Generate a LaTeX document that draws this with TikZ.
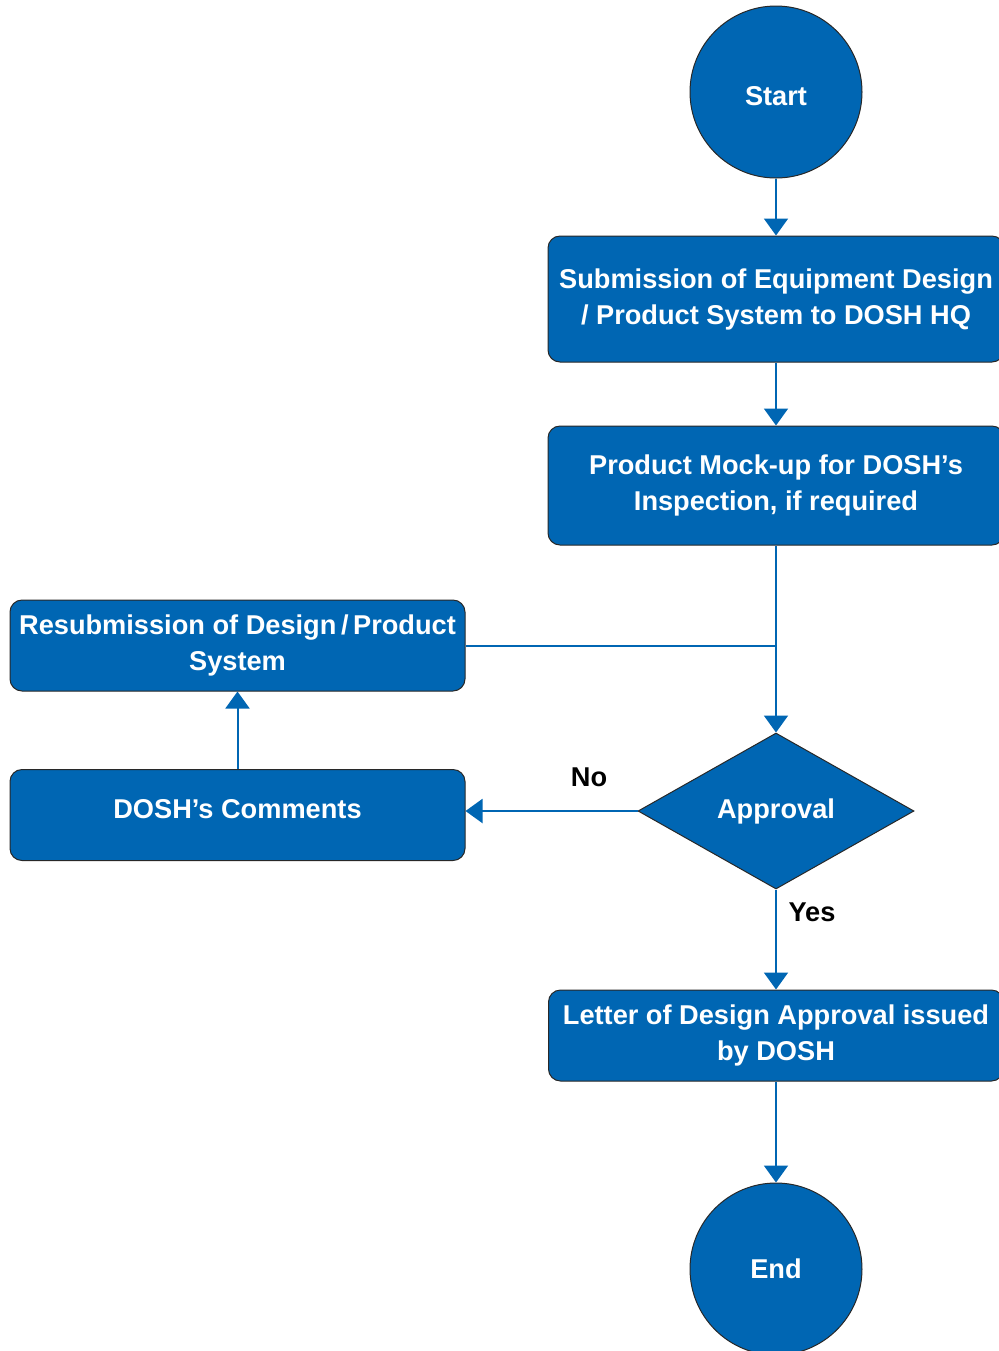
\documentclass[tikz,border=0pt]{standalone}
\usepackage{fontspec}
\setmainfont{Liberation Sans}
\usepackage{xcolor}
\usetikzlibrary{arrows.meta,shapes.geometric}

\definecolor{doshblue}{RGB}{0,102,179}
\definecolor{edgegray}{RGB}{40,40,40}

\begin{document}
\begin{tikzpicture}[
    x=0.5pt, y=-0.5pt,
    every node/.style={font=\bfseries\fontsize{13.6pt}{18pt}\selectfont},
    box/.style={rectangle, rounded corners=6pt, draw=edgegray, line width=0.5pt, fill=doshblue,
        text=white, minimum width=228pt, minimum height=63pt, align=center},
    smallbox/.style={box, minimum width=227.5pt, minimum height=45.5pt},
    term/.style={circle, draw=edgegray, line width=0.5pt, fill=doshblue, text=white, minimum size=86pt},
    decision/.style={diamond, draw=edgegray, line width=0.5pt, fill=doshblue, text=white,
        inner sep=0pt, minimum width=138pt, minimum height=78pt},
    arrow/.style={-{Triangle[width=12pt,length=8.5pt]}, draw=doshblue, line width=1pt},
    line/.style={draw=doshblue, line width=1pt},
    answer/.style={text=black}
]
    \useasboundingbox (0,0) rectangle (998,1351);

    % Main flow
    \node[term, text height=13.5pt] (start) at (776,92) {Start};
    \node[box] (submit) at (776,299) {Submission of Equipment Design\\/ Product System to DOSH HQ};
    \node[box, minimum height=59.5pt] (mockup) at (776,485.5) {Product Mock-up for DOSH’s\\Inspection, if required};
    \node[decision] (approval) at (776,811) {Approval};
    \node[smallbox] (letter) at (776,1035.5) {Letter of Design Approval issued\\by DOSH};
    \node[term] (end) at (776,1269) {End};

    % Loop back
    \node[smallbox] (resubmit) at (237.5,645.5) {Resubmission of Design\,/\,Product\\System};
    \node[smallbox, text depth=6pt] (comments) at (237.5,815) {DOSH’s Comments};

    % Labels
    \node[answer] (no) at (589,777) {No};
    \node[answer] (yes) at (812,912) {Yes};

    % Arrows
    \draw[arrow] (start) -- (submit);
    \draw[arrow] (submit) -- (mockup);
    \draw[arrow] (mockup) -- (approval);
    \draw[line] (resubmit.east) -- (resubmit.east -| mockup.south);
    \draw[arrow] (approval.west) -- (approval.west -| comments.east);
    \draw[arrow] (comments) -- (resubmit);
    \draw[arrow] (approval) -- (letter);
    \draw[arrow] (letter) -- (end);
\end{tikzpicture}
\end{document}
